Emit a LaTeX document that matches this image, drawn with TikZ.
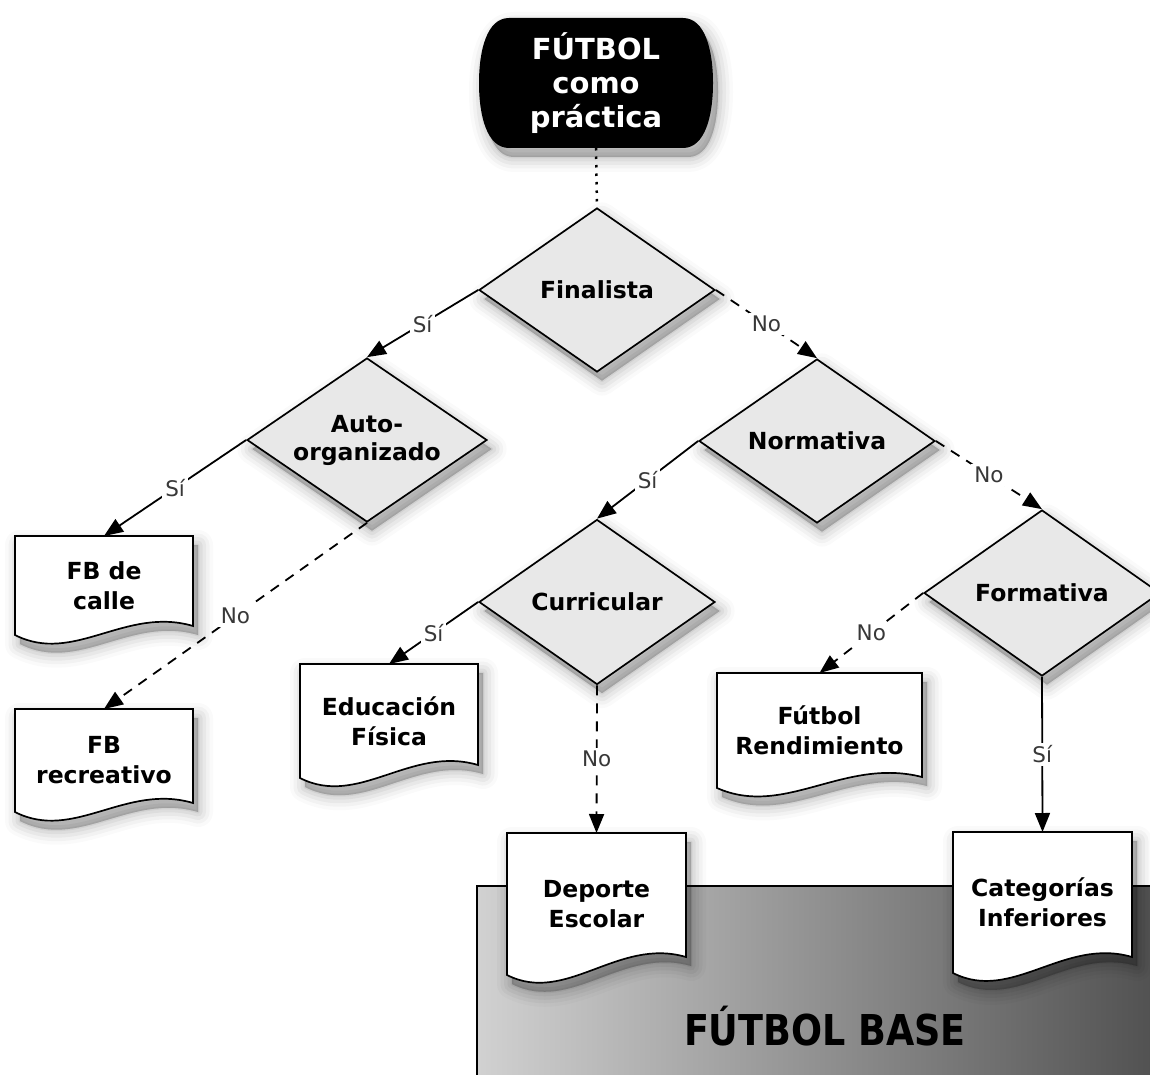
\documentclass[tikz,border=0pt]{standalone}
\usepackage{fontspec}
\setmainfont{DejaVu Sans}
\newfontfamily\basefont{DejaVu Sans}[FakeStretch=0.86]
\usetikzlibrary{shapes.geometric,arrows.meta}

\definecolor{diamondgray}{gray}{0.91}
\definecolor{labelgray}{gray}{0.22}

\tikzset{
  shadowpass/.style 2 args={preaction={fill=black, draw=black, opacity=#2,
      line width=#1, line join=round, transform canvas={xshift=5pt, yshift=-9pt}}},
  softshadow/.style={shadowpass={30pt}{0.02}, shadowpass={23pt}{0.03},
      shadowpass={16pt}{0.04}, shadowpass={9pt}{0.045}, shadowpass={3pt}{0.05},
      shadowpass={0.1pt}{0.05}},
  decision/.style={diamond, draw=black, line width=1.7pt, fill=diamondgray,
      minimum width=236pt, minimum height=164pt, inner sep=0pt, aspect=1.44,
      font=\bfseries\fontsize{23.5}{28}\selectfont, align=center, softshadow},
  docbox/.style={rectangle, inner sep=0pt, outer sep=0pt, align=center,
      font=\bfseries\fontsize{23.5}{30}\selectfont},
  docpaper/.style={draw=black, line width=1.7pt, fill=white, softshadow},
  link/.style={line width=1.8pt, -{Triangle[length=19pt,width=15pt]}},
  nolink/.style={link, dash pattern=on 10pt off 8pt},
  answer/.style={fill=white, inner sep=3pt, text=labelgray,
      font=\fontsize{21.5}{21.5}\selectfont},
}

% document symbol: straight top and sides, wavy lower edge, text node on top
% #1 name, #2 centre x, #3 top y, #4 width, #5 height, #6 rise of lower right corner, #7 text
\newcommand\paper[7]{%
  \path[docpaper] ({#2-#4/2},#3) -- ({#2+#4/2},#3) -- ({#2+#4/2},{#3+#5-#6})
    .. controls ({#2+0.12*#4},{#3+#5-#6-20}) and ({#2-0.17*#4},{#3+#5+30})
    .. ({#2-#4/2},{#3+#5}) -- cycle;
  \node[docbox, minimum width=#4pt, minimum height=#5pt, anchor=north] (#1) at (#2,#3) {#7};}

\begin{document}
\begin{tikzpicture}[x=1pt, y=-1pt]
\useasboundingbox (0,0) rectangle (1150,1075);
\fill[white] (0,0) rectangle (1150,1075);

% base panel
\path[draw=black, line width=1.7pt, left color=black!18, right color=black!70]
  (477,886) rectangle (1180,1100);
\node[font=\basefont\bfseries\fontsize{42.5}{42}\selectfont] (base) at (825,1026) {FÚTBOL BASE};

% outcomes
\paper{calle}{104}{536}{178}{99}{9}{FB de\\calle}
\paper{recre}{104}{709}{178}{103}{9}{FB\\recreativo}
\paper{edu}{389}{664}{178}{114}{13}{Educación\\Física}
\paper{rend}{819.5}{673}{205}{115}{11}{Fútbol\\Rendimiento}
\paper{dep}{596.5}{833}{179}{142}{18}{Deporte\\Escolar}
\paper{cat}{1042.5}{832}{179}{141}{16}{Categorías\\Inferiores}

% start terminal: flat top and bottom, bowed sides
\path[fill=black, softshadow] (509,18) -- (683,18)
  .. controls (705,18) and (713,50) .. (713,83)
  .. controls (713,116) and (705,148) .. (683,148) -- (509,148)
  .. controls (487,148) and (479,116) .. (479,83)
  .. controls (479,50) and (487,18) .. (509,18) -- cycle;
\node[minimum width=234pt, minimum height=130pt, inner sep=0pt, outer sep=0pt,
      text=white, align=center, font=\bfseries\fontsize{29}{34}\selectfont]
  (title) at (596,83) {FÚTBOL\\como\\práctica};

% decisions
\node[decision] (fin)  at (597,290) {Finalista};
\node[decision, minimum width=240pt] (auto) at (367,440) {Auto-\\organizado};
\node[decision] (norm) at (817,441) {Normativa};
\node[decision, minimum height=165pt] (curr) at (597,602) {Curricular};
\node[decision, minimum height=166pt] (form) at (1042,593) {Formativa};

% connectors
\draw[line width=2.5pt, dash pattern=on 2.5pt off 6pt] (title.south) -- (fin.north);
\draw[link]   (fin.west)   -- node[answer]{Sí} (auto.north);
\draw[nolink] (fin.east)   -- node[answer]{No} (norm.north);
\draw[link]   (auto.west)  -- node[answer]{Sí} (calle.north);
\draw[nolink] (auto.south) -- node[answer]{No} (recre.north);
\draw[link]   (norm.west)  -- node[answer]{Sí} (curr.north);
\draw[nolink] (norm.east)  -- node[answer]{No} (form.north);
\draw[link]   (curr.west)  -- node[answer]{Sí} (edu.north);
\draw[nolink] (curr.south) -- node[answer]{No} (dep.north);
\draw[nolink] (form.west)  -- node[answer]{No} (rend.north);
\draw[link]   (form.south) -- node[answer]{Sí} (cat.north);
\end{tikzpicture}
\end{document}
